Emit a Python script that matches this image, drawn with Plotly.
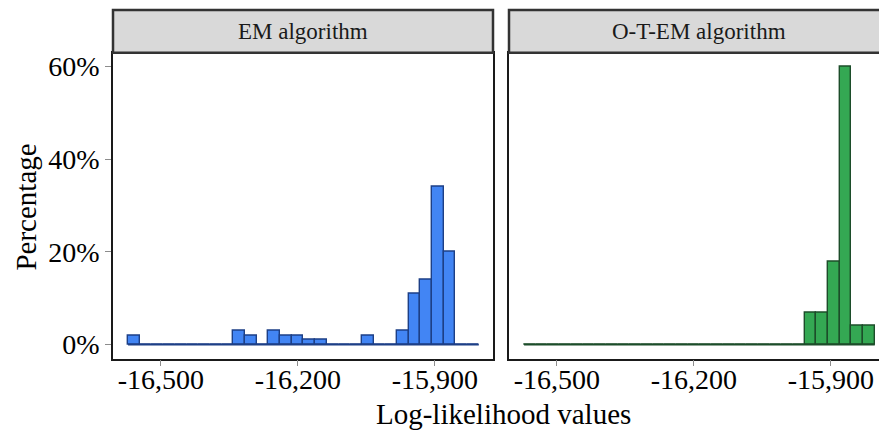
import plotly.graph_objects as go

# Histogram bins shared by both facets (30 bins)
bin_start = -16572.0
bin_width = 25.6
n_bins = 30
bin_centers = [bin_start + (i + 0.5) * bin_width for i in range(n_bins)]
bin_edges = [bin_start + i * bin_width for i in range(n_bins + 1)]

# Percentage of runs falling in each log-likelihood bin
em_pct = [2, 0, 0, 0, 0, 0, 0, 0, 0, 3,
          2, 0, 3, 2, 2, 1, 1, 0, 0, 0,
          2, 0, 0, 3, 11, 14, 34, 20, 0, 0]
otem_pct = [0, 0, 0, 0, 0, 0, 0, 0, 0, 0,
            0, 0, 0, 0, 0, 0, 0, 0, 0, 0,
            0, 0, 0, 0, 7, 7, 18, 60, 4, 4]

panel_titles = ["EM algorithm", "O-T-EM algorithm"]
x_tick_vals = [-16500, -16200, -15900]
x_tick_text = ["-16,500", "-16,200", "-15,900"]
y_tick_vals = [0, 20, 40, 60]
y_tick_text = ["0%", "20%", "40%", "60%"]

W, H = 879, 434
FONT = "Liberation Serif"

blue_fill, blue_line = "#4285f4", "#1d3f86"
green_fill, green_line = "#34a853", "#1c4d2a"

# pixel layout of the two panels
p1 = (113, 493)
p2 = (509, 879)
panel_top, panel_bot = 52, 360
strip_top = 9

def px(x):
    return x / W

def py(y):
    return 1 - y / H

px_per_unit = 137.0 / 300.0
x_lo = -16605.0
x_hi1 = x_lo + (p1[1] - p1[0]) / px_per_unit
x_hi2 = x_lo + (p2[1] - p2[0]) / px_per_unit

fig = go.Figure()

for vals, fill, line, xa, ya in [
    (em_pct, blue_fill, blue_line, "x", "y"),
    (otem_pct, green_fill, green_line, "x2", "y2"),
]:
    # zero baseline across all bins
    fig.add_trace(go.Scatter(
        x=[bin_edges[0], bin_edges[-1]], y=[0, 0], mode="lines",
        line=dict(color=line, width=1.6), xaxis=xa, yaxis=ya,
        showlegend=False, hoverinfo="skip",
    ))
    fig.add_trace(go.Bar(
        x=bin_centers, y=vals, width=bin_width,
        marker=dict(color=fill, line=dict(color=line, width=1.4)),
        xaxis=xa, yaxis=ya, showlegend=False,
    ))

tick_font = dict(family=FONT, size=28, color="#000000")
frame_col = "#1a1a1a"

common_x = dict(
    tickmode="array", tickvals=x_tick_vals, ticktext=x_tick_text,
    ticks="outside", ticklen=6, tickwidth=1, tickcolor="#8c8c8c",
    ticklabelstandoff=-11,
    showgrid=False, zeroline=False, showline=True, mirror=True,
    linecolor=frame_col, linewidth=1.5, tickfont=tick_font,
)
common_y = dict(
    range=[-3, 63], tickmode="array", tickvals=y_tick_vals,
    ticks="outside", ticklen=6, tickwidth=1, tickcolor="#8c8c8c",
    showgrid=False, zeroline=False, showline=True,
    linecolor=frame_col, linewidth=1.5, tickfont=tick_font,
    domain=[py(panel_bot), py(panel_top)],
)

fig.update_layout(
    width=W, height=H,
    margin=dict(l=0, r=0, t=0, b=0),
    paper_bgcolor="white", plot_bgcolor="white",
    bargap=0,
    xaxis=dict(common_x, domain=[px(p1[0]), px(p1[1])], range=[x_lo, x_hi1], anchor="y"),
    xaxis2=dict(common_x, domain=[px(p2[0]), px(p2[1])], range=[x_lo, x_hi2], anchor="y2"),
    yaxis=dict(common_y, ticktext=y_tick_text, mirror=True, anchor="x"),
    yaxis2=dict(common_y, showticklabels=False, ticks="", mirror=False, anchor="x2"),
)

# facet strips
for (x0, x1), title in zip([p1, (p2[0], p2[1] + 30)], panel_titles):
    fig.add_shape(type="rect", xref="paper", yref="paper",
                  x0=px(x0), x1=px(x1), y0=py(panel_top), y1=py(strip_top),
                  fillcolor="#d9d9d9", line=dict(color="#333333", width=2.5),
                  layer="above")
    cx = (x0 + (x1 if x1 <= W else p2[0] + (p1[1] - p1[0]))) / 2
    fig.add_annotation(x=px(cx), y=py((strip_top + panel_top) / 2),
                       xref="paper", yref="paper", text=title, showarrow=False,
                       font=dict(family=FONT, size=23, color="#1a1a1a"),
                       xanchor="center", yanchor="middle")

# axis titles
fig.add_annotation(x=px(503), y=py(416), xref="paper", yref="paper",
                   text="Log-likelihood values", showarrow=False,
                   font=dict(family=FONT, size=29, color="#000000"),
                   xanchor="center", yanchor="middle")
fig.add_annotation(x=px(26), y=py(208), xref="paper", yref="paper",
                   text="Percentage", showarrow=False, textangle=-90,
                   font=dict(family=FONT, size=29, color="#000000"),
                   xanchor="center", yanchor="middle")

fig.write_html("out.html")
